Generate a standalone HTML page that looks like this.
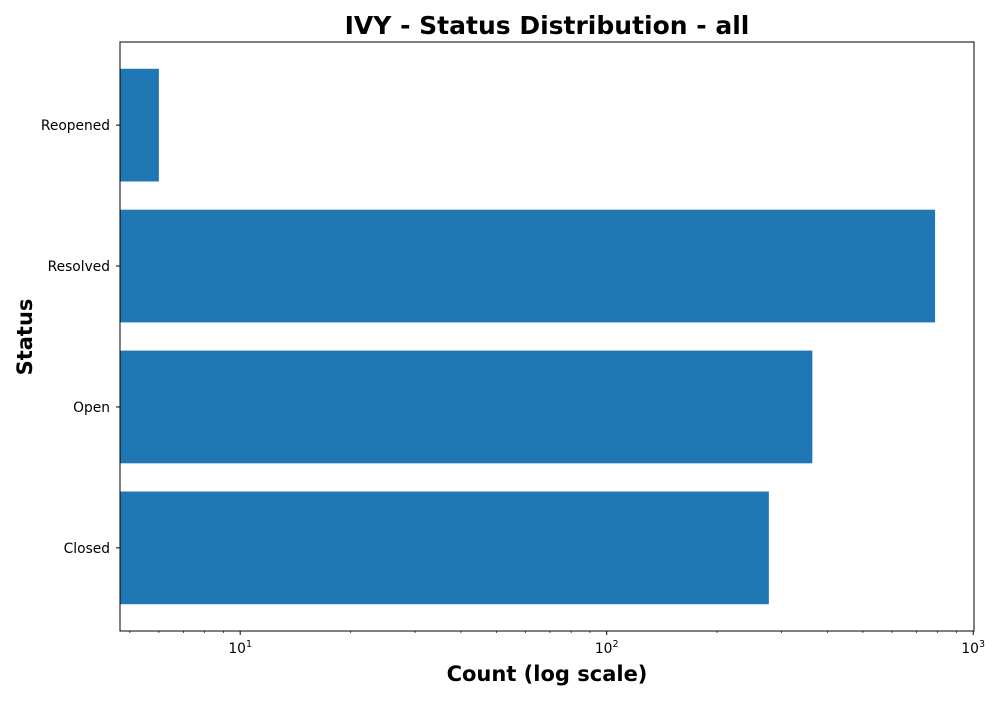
<!DOCTYPE html>
<html><head><meta charset="utf-8"><style>body{margin:0;background:#fff}svg{font-family:"DejaVu Sans","Liberation Sans",sans-serif}</style></head>
<body>
<svg id="chart" width="1000" height="700">
<text x="547" y="34" text-anchor="middle" font-size="25" font-weight="bold">IVY - Status Distribution - all</text>
<text x="547" y="681" text-anchor="middle" font-size="21" font-weight="bold">Count (log scale)</text>
<text transform="translate(32,337) rotate(-90)" text-anchor="middle" font-size="21" font-weight="bold">Status</text>
<g id="bars"></g><g id="axes"></g>
</svg>
<script>
const categories = ["Closed","Open","Resolved","Reopened"];
const counts = [277, 364, 787, 6];
const xTickExps = [1, 2, 3];
const L=120,R=974,T=42,B=631;
const xmin=Math.log10(4.7), xmax=Math.log10(1005);
function x(v){return L+(Math.log10(v)-xmin)/(xmax-xmin)*(R-L);}
function y(i){return B-(i+0.59)/4.18*(B-T);}
const ns="http://www.w3.org/2000/svg";
function mk(t,a,p){const e=document.createElementNS(ns,t);for(const k in a)e.setAttribute(k,a[k]);p.appendChild(e);return e;}
const bars=document.getElementById('bars'),axes=document.getElementById('axes');
const bh=0.8/4.18*(B-T);
categories.forEach((c,i)=>{
  const r=mk('rect',{x:L,y:y(i)-bh/2,width:x(counts[i])-L,height:bh,fill:'#1f77b4'},bars);
  
  
  const tk=mk('line',{x1:L-4,x2:L,y1:y(i),y2:y(i),stroke:'#000'},axes);
  
  
  const t=mk('text',{x:L-10,y:y(i)+5,'text-anchor':'end','font-size':13.8},axes);
  t.textContent=c;
  
  
});
for(let e=0;e<=3;e++){for(let m=1;m<10;m++){const v=m*Math.pow(10,e);if(v<4.7||v>1005)continue;
  const major=m===1;const xx=x(v);
  const l=mk('line',{x1:xx,x2:xx,y1:B,y2:B+(major?4:2),stroke:'#000','stroke-width':major?1:0.7},axes);
  
  
}}
xTickExps.forEach(e=>{
  const t=mk('text',{x:x(Math.pow(10,e)),y:B+22,'text-anchor':'middle','font-size':13.8},axes);
  t.innerHTML='10<tspan dy="-6" font-size="9.5">'+e+'</tspan>';
  
  
});
const f=mk('rect',{x:L,y:T,width:R-L,height:B-T,fill:'none',stroke:'#000','stroke-width':1},axes);


</script>
</body></html>
